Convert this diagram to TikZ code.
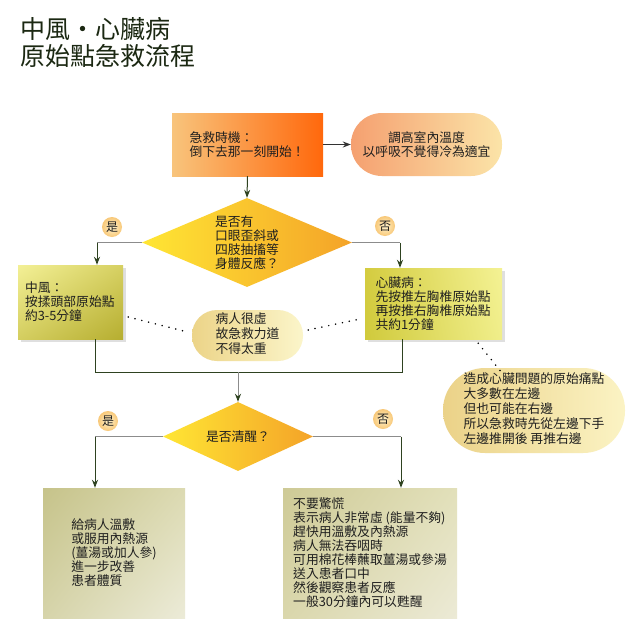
\documentclass[tikz,border=0pt]{standalone}
\usepackage{fontspec}
\setmainfont{Noto Sans CJK TC}
\usetikzlibrary{shapes.geometric,arrows.meta,shadows,shadings}
\definecolor{txt}{HTML}{1F1F1F}
\definecolor{ttl}{HTML}{1B2812}
\definecolor{dg}{HTML}{2E4220}
\definecolor{ln}{HTML}{8C8C8C}
\definecolor{stL}{RGB}{248,196,124}
\definecolor{stR}{RGB}{255,104,12}
\definecolor{rmL}{RGB}{245,160,112}
\definecolor{rmR}{RGB}{251,228,168}
\definecolor{diL}{RGB}{255,230,52}
\definecolor{diR}{RGB}{244,163,40}
\definecolor{labI}{RGB}{255,243,205}
\definecolor{labO}{RGB}{248,200,120}
\definecolor{zfUL}{RGB}{243,240,150}
\definecolor{zfLR}{RGB}{182,174,48}
\definecolor{zfUR}{RGB}{214,208,98}
\definecolor{zfLL}{RGB}{212,206,96}
\definecolor{xzUL}{RGB}{212,204,64}
\definecolor{xzLL}{RGB}{208,202,60}
\definecolor{xzUR}{RGB}{244,242,148}
\definecolor{xzLR}{RGB}{240,238,138}
\definecolor{n1L}{RGB}{236,212,136}
\definecolor{n1R}{RGB}{251,245,202}
\definecolor{n2L}{RGB}{235,210,136}
\definecolor{n2R}{RGB}{251,243,196}
\definecolor{blUL}{RGB}{198,195,138}
\definecolor{blLR}{RGB}{236,235,216}
\definecolor{blUR}{RGB}{220,218,178}
\definecolor{blLL}{RGB}{214,212,170}
\definecolor{brUL}{RGB}{206,202,150}
\definecolor{brLR}{RGB}{236,234,214}
\definecolor{brUR}{RGB}{226,224,186}
\definecolor{brLL}{RGB}{218,215,172}
\tikzset{
  body/.style={font=\fontsize{12.8}{14}\selectfont, text=txt},
  titletext/.style={anchor=base west, inner sep=0pt, text=ttl, font=\fontsize{25}{27}\selectfont},
  boxshadow/.style={drop shadow={shadow xshift=2.5pt,shadow yshift=-2.5pt,opacity=0.25}},
  startbox/.style={body, rectangle, inner sep=0pt, inner xsep=17.5pt, text width=116pt, align=left,
     minimum height=63pt, left color=stL, right color=stR},
  pill/.style={body, rectangle, inner sep=0pt, align=center},
  yelbox/.style={body, rectangle, inner sep=0pt, align=left, boxshadow},
  bigbox/.style={body, rectangle, inner sep=0pt, align=left},
  dia/.style={diamond, inner sep=0pt, left color=diL, right color=diR},
  lab/.style={circle, inner sep=0pt, minimum size=20pt, font=\fontsize{12}{12}\selectfont, text=txt,
     inner color=labI, outer color=labO},
  gline/.style={draw=ln, line width=1pt},
  darrow/.style={draw=dg, line width=1pt, -{Stealth[length=8pt,width=6pt]}},
  garrow/.style={draw=ln, line width=1pt, -{Stealth[length=8pt,width=6pt,color=dg]}},
  karrow/.style={draw=black!80, line width=1pt, -{Stealth[length=8pt,width=6pt]}},
  dline/.style={draw=dg, line width=1pt},
  dots/.style={draw=black, line width=1.7pt, line cap=round, dash pattern=on 0pt off 7pt},
}
\begin{document}
\begin{tikzpicture}[x=1pt,y=-1pt]
\useasboundingbox (0,0) rectangle (640,632);
\fill[white] (0,0) rectangle (640,632);

% title
\node[titletext] (title1) at (20,38) {中風・心臟病};
\node[titletext] (title2) at (20,65) {原始點急救流程};

% start box and first pill
\node[startbox] (start) at (247.5,144.5) {急救時機：\\倒下去那一刻開始！};
\node[pill, minimum width=151pt, minimum height=63pt, rounded corners=31pt,
  left color=rmL, right color=rmR] (room) at (426.5,144.5) {調高室內溫度\\以呼吸不覺得冷為適宜};

% diamond 1
\node[dia, minimum width=210pt, minimum height=89pt] (d1) at (247,242.5) {};
\node[body, align=left, inner sep=0pt] (d1t) at (d1.center) {是否有\\口眼歪斜或\\四肢抽搐等\\身體反應？};

% stroke box
\node[yelbox, inner xsep=7pt, text width=91pt, minimum height=74pt,
  upper left=zfUL, lower right=zfLR, upper right=zfUR, lower left=zfLL] (zf) at (70.5,302) {中風：\\按揉頭部原始點\\約3-5分鐘};

% heart box
\node[yelbox, inner xsep=10.5pt, text width=116pt, minimum height=71pt,
  upper left=xzUL, lower left=xzLL, upper right=xzUR, lower right=xzLR] (xz) at (433.5,303.5) {心臟病：\\先按推左胸椎原始點\\再按推右胸椎原始點\\共約1分鐘};

% note 1
\node[pill, minimum width=111pt, minimum height=51pt, rounded corners=25pt,
  left color=n1L, right color=n1R] (n1) at (247.5,335.5) {\begin{tabular}{@{}l@{}}病人很虛\\故急救力道\\不得太重\end{tabular}};

% note 2
\node[pill, minimum width=182pt, minimum height=85pt, rounded corners=42pt,
  left color=n2L, right color=n2R] (n2) at (534,410.5) {\begin{tabular}{@{}l@{}}造成心臟問題的原始痛點\\大多數在左邊\\但也可能在右邊\\所以急救時先從左邊下手\\左邊推開後 再推右邊\end{tabular}};

% diamond 2
\node[dia, minimum width=150pt, minimum height=69pt] (d2) at (238,436.5) {};
\node[body, inner sep=0pt] (d2t) at (d2.center) {是否清醒？};

% bottom boxes
\node[bigbox, minimum width=142pt, minimum height=130pt,
  upper left=blUL, lower right=blLR, upper right=blUR, lower left=blLL] (bl) at (114,553) {給病人溫敷\\或服用內熱源\\(薑湯或加人參)\\進一步改善\\患者體質};
\node[bigbox, minimum width=174pt, minimum height=130pt,
  upper left=brUL, lower right=brLR, upper right=brUR, lower left=brLL] (br) at (370,553) {不要驚慌\\表示病人非常虛 (能量不夠)\\趕快用溫敷及內熱源\\病人無法吞咽時\\可用棉花棒蘸取薑湯或參湯\\送入患者口中\\然後觀察患者反應\\一般30分鐘內可以甦醒};

% yes / no labels
\node[lab] (y1) at (112,227) {是};
\node[lab] (no1) at (385,226) {否};
\node[lab] (y2) at (108,421) {是};
\node[lab] (no2) at (383,419) {否};

% connectors
\draw[karrow] (start.east) -- (room.west);
\draw[darrow] (start.south) -- (d1.north);

\coordinate (c1) at (97,242.5);
\coordinate (c2) at (400,242.5);
\draw[gline] (d1.west) -- (c1);
\draw[darrow] (c1) -- (c1 |- zf.north);
\draw[gline] (d1.east) -- (c2);
\draw[darrow] (c2) -- (c2 |- xz.north);

\coordinate (m1) at (95,372);
\coordinate (m2) at (402,372);
\coordinate (m) at (238,372);
\draw[dline] (m1 |- zf.south) -- (m1) -- (m2) -- (m2 |- xz.south);
\draw[garrow] (m) -- (d2.north);

\coordinate (c3) at (95,436.5);
\coordinate (c4) at (401,436.5);
\draw[gline] (d2.west) -- (c3);
\draw[darrow] (c3) -- (c3 |- bl.north);
\draw[gline] (d2.east) -- (c4);
\draw[darrow] (c4) -- (c4 |- br.north);

% dotted notes
\draw[dots] ([shift={(5,15)}]zf.east) -- ([shift={(-4,-3.5)}]n1.west);
\draw[dots] ([shift={(5,-5.5)}]n1.east) -- ([shift={(-5,15.5)}]xz.west);
\draw[dots] ([shift={(-24,4)}]xz.south east) -- ([shift={(-33,4)}]n2.north);
\end{tikzpicture}
\end{document}
